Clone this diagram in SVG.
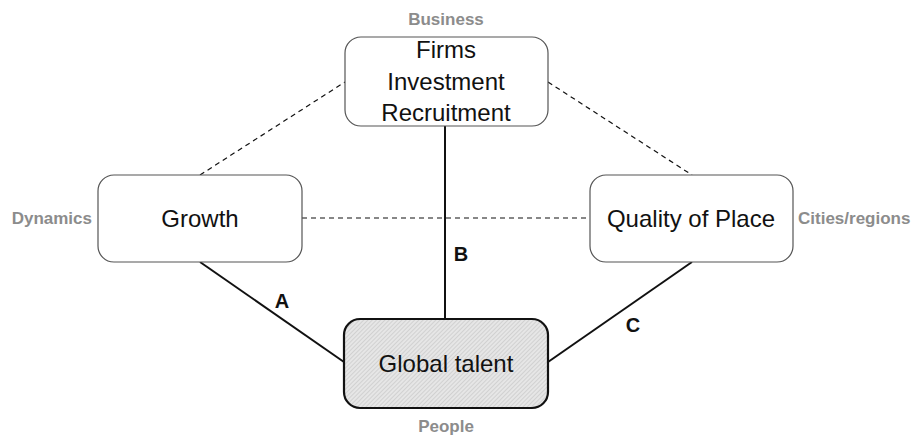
<svg xmlns="http://www.w3.org/2000/svg" width="923" height="437" viewBox="0 0 923 437">
<defs>
<pattern id="hatch" width="3" height="3" patternUnits="userSpaceOnUse" patternTransform="rotate(45)">
<rect width="3" height="3" fill="#e6e6e6"/>
<line x1="0" y1="0" x2="0" y2="3" stroke="#bdbdbd" stroke-width="1"/>
</pattern>
<style>
.box{fill:#fff;stroke:#555;stroke-width:1.2}
.main{font-family:"Liberation Sans",Arial,sans-serif;font-size:24px;fill:#111;text-anchor:middle}
.cat{font-family:"Liberation Sans",Arial,sans-serif;font-size:17px;font-weight:bold;fill:#8c8c8c}
.lbl{font-family:"Liberation Sans",Arial,sans-serif;font-size:20px;font-weight:bold;fill:#111;text-anchor:middle}
.solid{stroke:#111;stroke-width:2;fill:none}
.dash{stroke:#111;stroke-width:1.2;stroke-dasharray:5,4;fill:none}
</style>
</defs>
<rect width="923" height="437" fill="#fff"/>
<g id="connectors">
<line class="dash" x1="200" y1="175" x2="345" y2="82"/>
<line class="dash" x1="548" y1="82" x2="692" y2="175"/>
<line class="dash" x1="302" y1="218" x2="590" y2="218"/>
<line class="solid" x1="445" y1="126" x2="445" y2="319"/>
<line class="solid" x1="200" y1="262" x2="344" y2="362"/>
<line class="solid" x1="692" y1="262" x2="548" y2="362"/>
<text class="lbl" x="282" y="308">A</text>
<text class="lbl" x="461" y="261">B</text>
<text class="lbl" x="633" y="332">C</text>
</g>
<g id="firms">
<rect class="box" x="345" y="37" width="203" height="89" rx="16"/>
<text class="main" x="446" y="58">Firms</text>
<text class="main" x="446" y="90">Investment</text>
<text class="main" x="446" y="121">Recruitment</text>
</g>
<g id="growth">
<rect class="box" x="98" y="175" width="204" height="87" rx="16"/>
<text class="main" x="200" y="227">Growth</text>
</g>
<g id="quality">
<rect class="box" x="590" y="175" width="203" height="87" rx="16"/>
<text class="main" x="691" y="227">Quality of Place</text>
</g>
<g id="talent">
<rect x="344" y="319" width="204" height="89" rx="16" fill="url(#hatch)" stroke="#111" stroke-width="2.2"/>
<text class="main" x="446" y="372">Global talent</text>
</g>
<g id="categories">
<text class="cat" x="446" y="25" text-anchor="middle">Business</text>
<text class="cat" x="92" y="224" text-anchor="end">Dynamics</text>
<text class="cat" x="798" y="224">Cities/regions</text>
<text class="cat" x="446" y="432" text-anchor="middle">People</text>
</g>
</svg>
